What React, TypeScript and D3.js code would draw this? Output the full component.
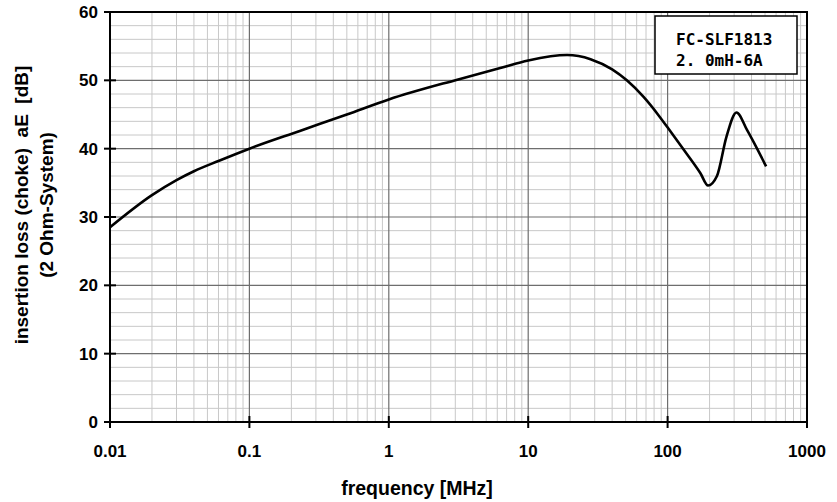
import React, { useEffect, useRef } from 'react';
import * as d3 from 'd3';

// values
const freqMHz = [0.01, 0.02, 0.03, 0.04, 0.06, 0.1, 0.23, 0.5, 1, 3.1, 6.3, 10, 19, 28, 40, 51, 67, 86, 105, 131, 172, 195, 226, 264, 312, 372, 509];
const lossDb = [28.5, 33.2, 35.4, 36.7, 38.2, 40, 42.6, 45.0, 47.2, 50.1, 51.8, 52.9, 53.7, 53.1, 51.6, 50.0, 47.6, 44.9, 42.5, 39.8, 36.4, 34.6, 36.0, 41.7, 45.3, 42.7, 37.4];

const xTicks = [0.01, 0.1, 1, 10, 100, 1000];
const xTickLabels = ['0.01', '0.1', '1', '10', '100', '1000'];
const yTicks = [0, 10, 20, 30, 40, 50, 60];
const legendLines = ['FC-SLF1813', '2. 0mH-6A'];

const W = 837;
const H = 502;
const margin = { left: 110, right: 30, top: 12, bottom: 80 };

export default function App() {
    const ref = useRef<SVGSVGElement>(null);

    useEffect(() => {
        const svg = d3.select(ref.current);
        svg.selectAll('*').remove();

        const x = d3.scaleLog().domain([0.01, 1000]).range([margin.left, W - margin.right]);
        const y = d3.scaleLinear().domain([0, 60]).range([H - margin.bottom, margin.top]);
        const font = '"Liberation Sans", Arial, sans-serif';

        const g = svg.append('g');

        // minor vertical grid
        const minorX: number[] = [];
        for (let d = 0.01; d < 1000; d *= 10) {
            for (let k = 2; k <= 9; k++) minorX.push(d * k);
        }
        g.selectAll('line.vminor').data(minorX).enter().append('line')
            .attr('x1', d => x(d)).attr('x2', d => x(d))
            .attr('y1', y(0)).attr('y2', y(60))
            .attr('stroke', '#c8c8c8').attr('stroke-width', 1);

        // minor horizontal grid every 2 dB
        const minorY = d3.range(2, 60, 2).filter(v => v % 10 !== 0);
        g.selectAll('line.hminor').data(minorY).enter().append('line')
            .attr('x1', x(0.01)).attr('x2', x(1000))
            .attr('y1', d => y(d)).attr('y2', d => y(d))
            .attr('stroke', '#c8c8c8').attr('stroke-width', 1);

        // major grid
        g.selectAll('line.vmajor').data(xTicks.slice(1, -1)).enter().append('line')
            .attr('x1', d => x(d)).attr('x2', d => x(d))
            .attr('y1', y(0)).attr('y2', y(60))
            .attr('stroke', '#6e6e6e').attr('stroke-width', 1.2);
        g.selectAll('line.hmajor').data(yTicks.slice(1, -1)).enter().append('line')
            .attr('x1', x(0.01)).attr('x2', x(1000))
            .attr('y1', d => y(d)).attr('y2', d => y(d))
            .attr('stroke', '#6e6e6e').attr('stroke-width', 1.2);

        // frame
        g.append('rect')
            .attr('x', x(0.01)).attr('y', y(60))
            .attr('width', x(1000) - x(0.01)).attr('height', y(0) - y(60))
            .attr('fill', 'none').attr('stroke', '#000').attr('stroke-width', 2);

        // y ticks
        g.selectAll('line.ytick').data(yTicks).enter().append('line')
            .attr('x1', x(0.01) - 6).attr('x2', x(0.01) + 6)
            .attr('y1', d => y(d)).attr('y2', d => y(d))
            .attr('stroke', '#000').attr('stroke-width', 2);
        g.selectAll('text.ylab').data(yTicks).enter().append('text')
            .attr('x', x(0.01) - 12).attr('y', d => y(d) + 6)
            .attr('text-anchor', 'end')
            .attr('font-family', font).attr('font-weight', 'bold').attr('font-size', 17)
            .text(d => String(d));

        // x ticks
        g.selectAll('line.xtick').data(xTicks).enter().append('line')
            .attr('x1', d => x(d)).attr('x2', d => x(d))
            .attr('y1', y(0) - 6).attr('y2', y(0) + 6)
            .attr('stroke', '#000').attr('stroke-width', 2);
        g.selectAll('text.xlab').data(xTicks).enter().append('text')
            .attr('x', d => x(d)).attr('y', y(0) + 35)
            .attr('text-anchor', 'middle')
            .attr('font-family', font).attr('font-weight', 'bold').attr('font-size', 17)
            .text((d, i) => xTickLabels[i]);

        // axis titles
        g.append('text')
            .attr('x', 417).attr('y', 495)
            .attr('text-anchor', 'middle')
            .attr('font-family', font).attr('font-weight', 'bold').attr('font-size', 19.5)
            .text('frequency [MHz]');
        g.append('text')
            .attr('transform', 'translate(28,205) rotate(-90)')
            .attr('text-anchor', 'middle')
            .attr('font-family', font).attr('font-weight', 'bold').attr('font-size', 19)
            .style('white-space', 'pre')
            .text('insertion loss (choke)  aE  [dB]');
        g.append('text')
            .attr('transform', 'translate(53,205) rotate(-90)')
            .attr('text-anchor', 'middle')
            .attr('font-family', font).attr('font-weight', 'bold').attr('font-size', 19)
            .text('(2 Ohm-System)');

        // curve
        const line = d3.line<number>()
            .x((d, i) => x(freqMHz[i]))
            .y(d => y(d))
            .curve(d3.curveMonotoneX);
        g.append('path')
            .attr('d', line(lossDb))
            .attr('fill', 'none').attr('stroke', '#000').attr('stroke-width', 2.6)
            .attr('stroke-linejoin', 'round');

        // legend box
        g.append('rect')
            .attr('x', 655).attr('y', 16).attr('width', 142).attr('height', 58)
            .attr('fill', '#fff').attr('stroke', '#000').attr('stroke-width', 1.5);
        legendLines.forEach((t, i) => {
            g.append('text')
                .attr('x', 676).attr('y', 45 + i * 21)
                .attr('font-family', '"DejaVu Sans Mono", monospace')
                .attr('font-weight', 'bold').attr('font-size', 16)
                .text(t);
        });
    }, []);

    return (
        <svg ref={ref} width={W} height={H}
            style={{ position: 'absolute', left: 0, top: 0, background: '#fff' }} />
    );
}
